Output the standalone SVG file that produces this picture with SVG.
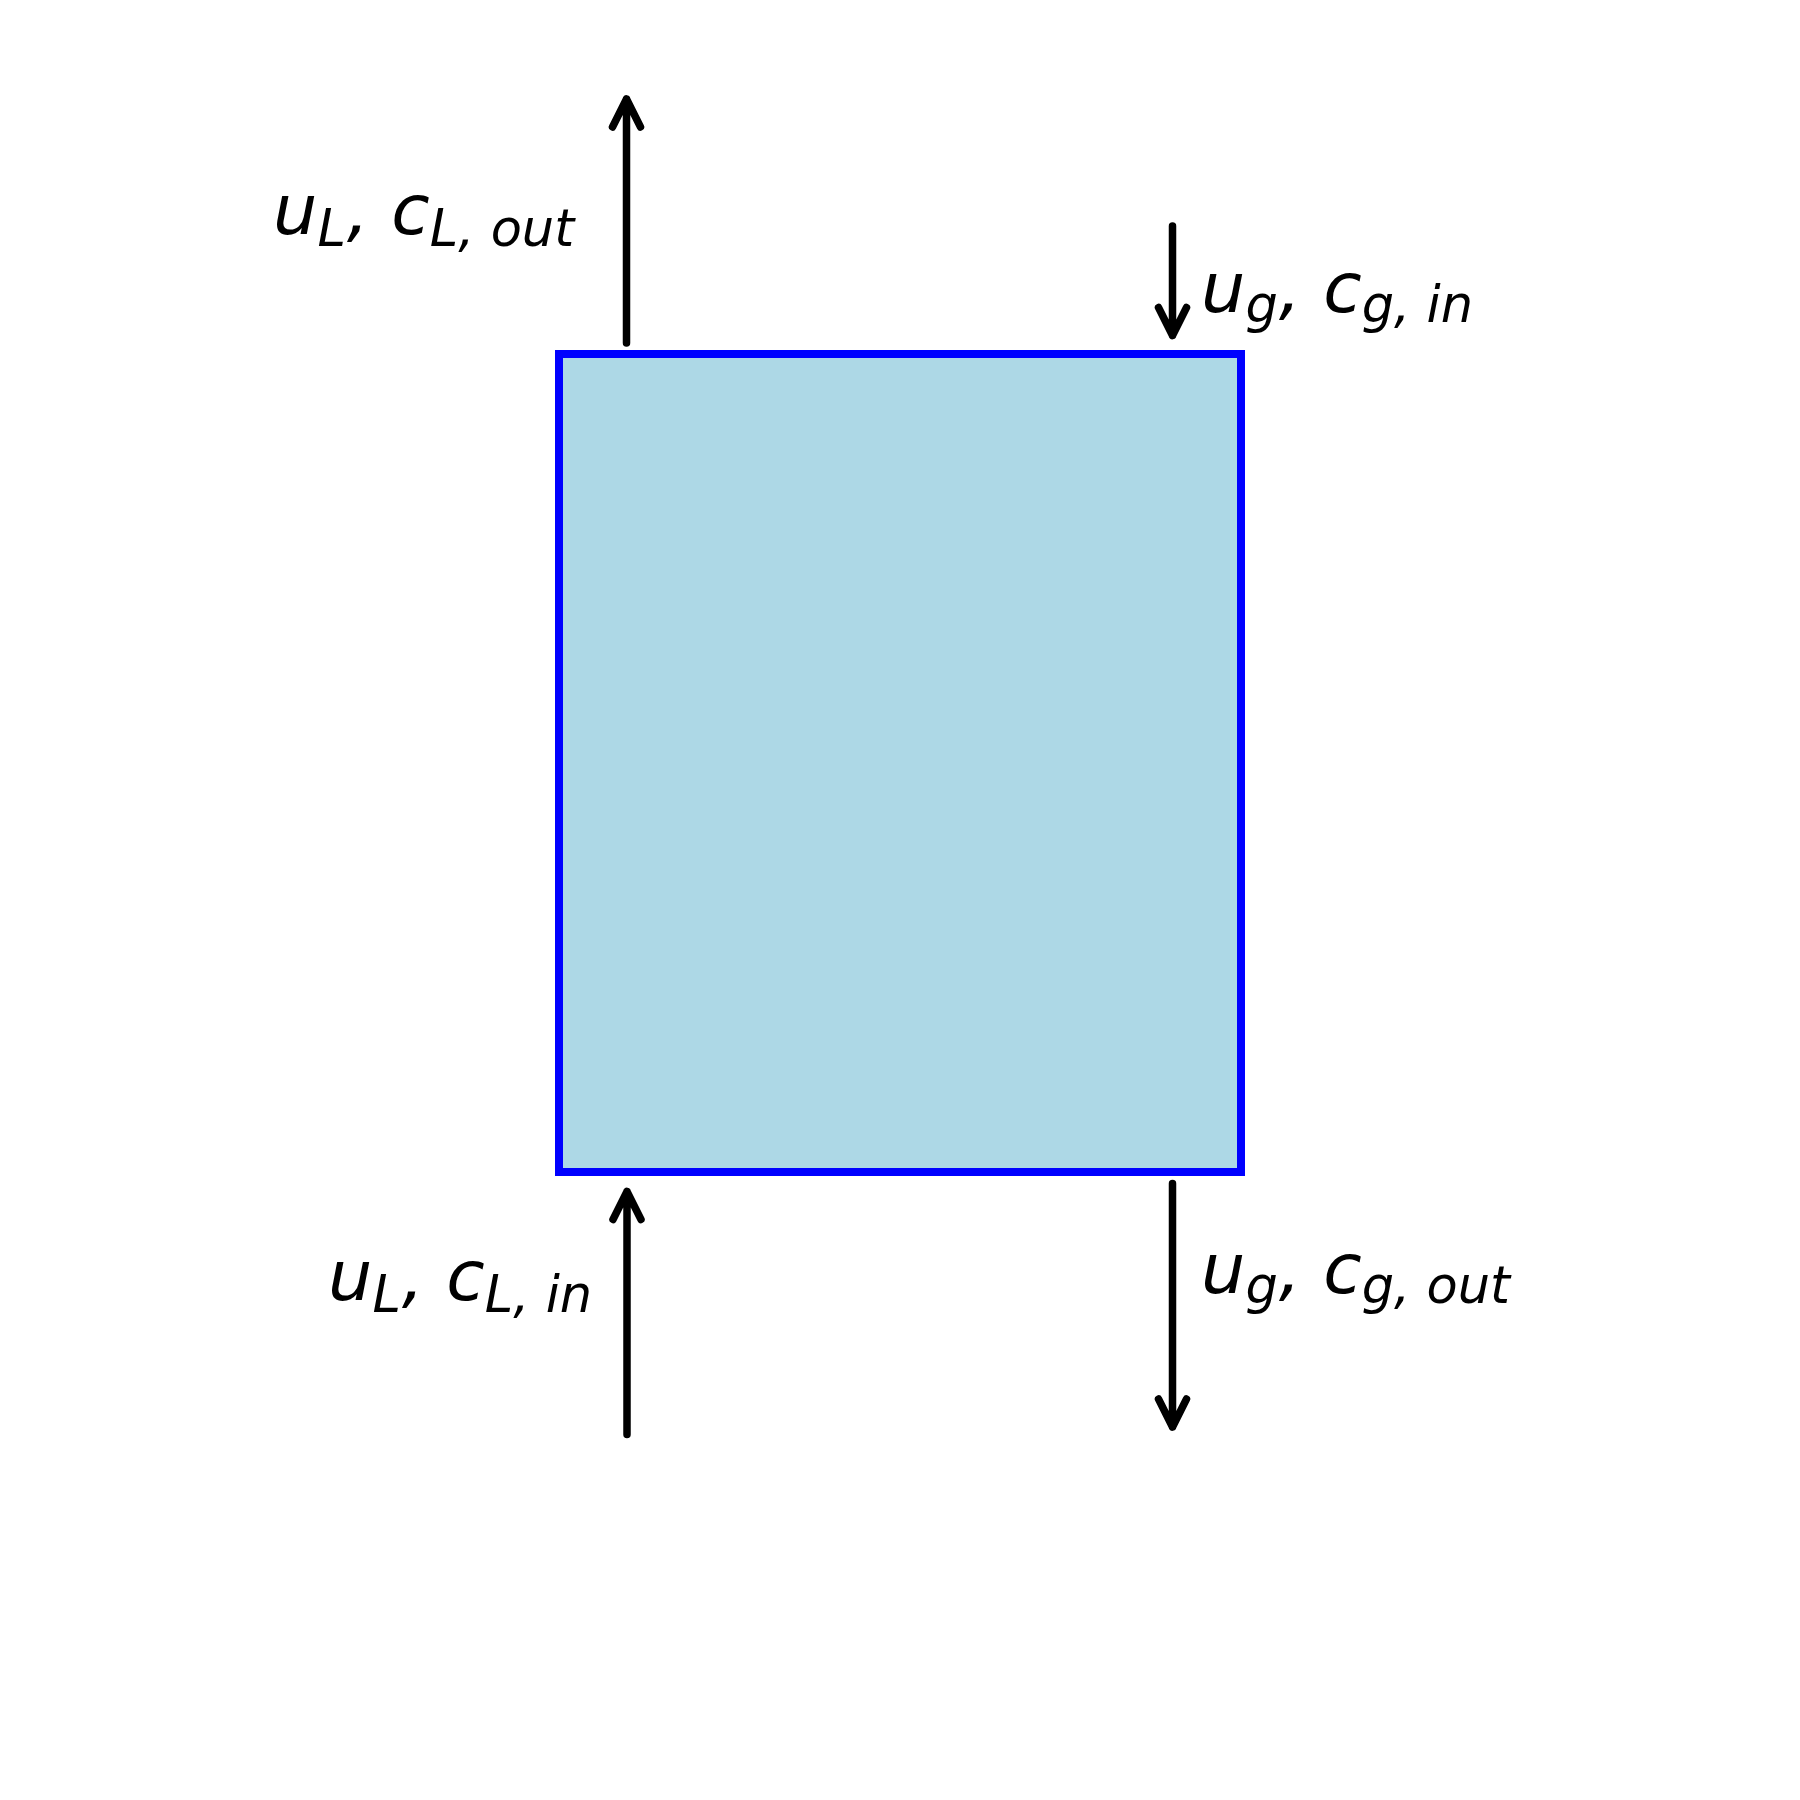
<svg xmlns="http://www.w3.org/2000/svg" width="1800" height="1800" viewBox="0 0 1800 1800">
<style>
.lbl{font-family:"DejaVu Sans",sans-serif;font-style:italic;font-size:70px;fill:#000}
.sub{font-size:51px}
.ar{fill:none;stroke:#000;stroke-width:7.5;stroke-linecap:round;stroke-linejoin:round}
</style>
<rect width="1800" height="1800" fill="#fff"/>
<g id="reactor">
<rect x="559" y="354" width="682" height="818" fill="#add8e6" stroke="#0000ff" stroke-width="8"/>
</g>
<g id="connectors">
<path class="ar" d="M626.5,343 L626.5,99 M612.5,127 L626.5,99 L640.5,127"/>
<path class="ar" d="M1172.5,226 L1172.5,335.5 M1158.5,307.5 L1172.5,335.5 L1186.5,307.5"/>
<path class="ar" d="M627,1434.5 L627,1191.5 M613,1219.5 L627,1191.5 L641,1219.5"/>
<path class="ar" d="M1172.5,1183.5 L1172.5,1427 M1158.5,1399 L1172.5,1427 L1186.5,1399"/>
</g>
<g id="label-L-out"><text class="lbl" x="273" y="234"><tspan>u</tspan><tspan class="sub" dy="12">L</tspan><tspan dy="-12" dx="1">, c</tspan><tspan class="sub" dy="12">L, out</tspan></text></g>
<g id="label-g-in"><text class="lbl" x="1201" y="311.5"><tspan>u</tspan><tspan class="sub" dy="10">g</tspan><tspan dy="-10" dx="1">, c</tspan><tspan class="sub" dy="10">g, in</tspan></text></g>
<g id="label-L-in"><text class="lbl" x="328" y="1300"><tspan>u</tspan><tspan class="sub" dy="12">L</tspan><tspan dy="-12" dx="1">, c</tspan><tspan class="sub" dy="12">L, in</tspan></text></g>
<g id="label-g-out"><text class="lbl" x="1201" y="1293"><tspan>u</tspan><tspan class="sub" dy="10">g</tspan><tspan dy="-10" dx="1">, c</tspan><tspan class="sub" dy="10">g, out</tspan></text></g>
</svg>
